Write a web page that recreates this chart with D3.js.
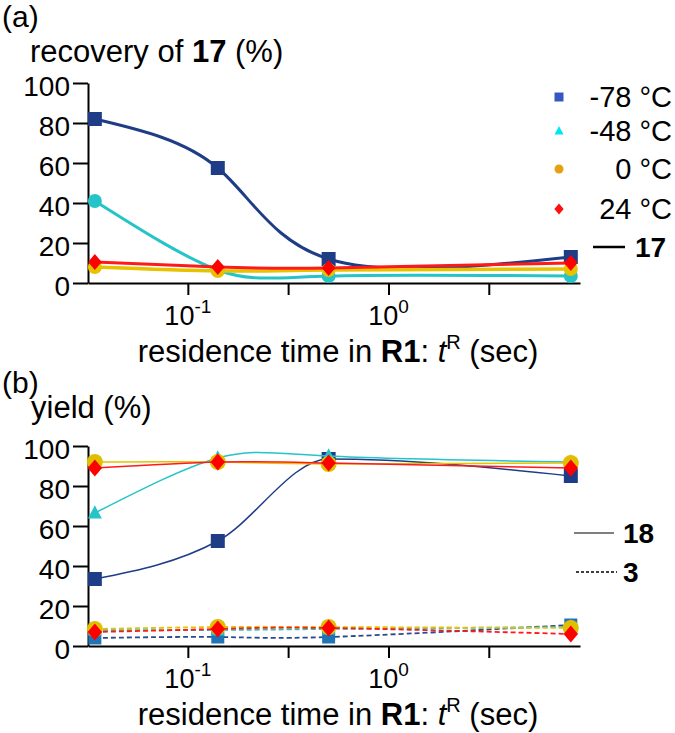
<!DOCTYPE html>
<html>
<head>
<meta charset="utf-8">
<script src="https://cdn.jsdelivr.net/npm/d3@7"></script>
<style>
body { margin: 0; background: #fff; }
svg { font-family: "Liberation Sans", Arial, Helvetica, sans-serif; }
</style>
</head>
<body>
<svg></svg>
<script>
var w = 675, h = 733;
var svg = d3.select("svg").attr("width", w).attr("height", h);

// residence times (sec)
var times = [0.0344, 0.141, 0.503, 8.1];
var temps = ["-78 °C", "-48 °C", "0 °C", "24 °C"];
var xTicks = [0.1, 0.316, 1, 3.16];
var xExp = ["-1", "", "0", ""];
var yTicks = [0, 20, 40, 60, 80, 100];

// (a) recovery of 17 (%)
var rec17_m78 = [82, 57.5, 12, 13];
var rec17_m48 = [41, 6.5, 3.5, 3.5];
var rec17_0 = [8, 6, 6.5, 7];
var rec17_24 = [10.5, 8, 7.5, 10];

// (b) yield of 18 (%)
var y18_m78 = [33.5, 52.5, 93.5, 85];
var y18_m48 = [66.5, 94, 95, 92];
var y18_0 = [92, 92, 91, 91.5];
var y18_24 = [89, 92, 91.5, 89];

// (b) yield of 3 (%)
var y3_m78 = [4, 4.5, 4.5, 10.5];
var y3_m48 = [8, 8, 8.5, 9.5];
var y3_0 = [8.5, 9.5, 9.5, 9];
var y3_24 = [7, 8.5, 9, 6];

var x = d3.scaleLog().domain([0.0318, 9.0]).range([88, 580]);
var yA = d3.scaleLinear().domain([0, 100]).range([283, 83]);
var yB = d3.scaleLinear().domain([0, 100]).range([646, 446]);

function marker(type, s) {
	if (type == "square") return "M" + (-s) + "," + (-s) + "h" + 2 * s + "v" + 2 * s + "h" + (-2 * s) + "Z";
	if (type == "triangle") return "M0," + (-s * 1.1) + "L" + s + "," + (s * 0.8) + "L" + (-s) + "," + (s * 0.8) + "Z";
	if (type == "diamond") return "M0," + (-s) + "L" + (s * 0.85) + ",0L0," + s + "L" + (-s * 0.85) + ",0Z";
	return d3.symbol(d3.symbolCircle, Math.PI * s * s)();
}

function axes(y) {
	var gy = svg.append("g").attr("transform", "translate(88,0)")
		.call(d3.axisLeft(y).tickValues(yTicks).tickSize(15).tickPadding(3).tickSizeOuter(0));
	gy.selectAll("text").attr("font-size", 28).attr("dy", "0.46em")
		.attr("font-family", "Liberation Sans, Arial, sans-serif").attr("fill", "#000");
	var gx = svg.append("g").attr("transform", "translate(0," + y(0) + ")")
		.call(d3.axisBottom(x).tickValues(xTicks).tickSize(12).tickFormat("").tickSizeOuter(0));
	[gy, gx].forEach(function(g) {
		g.selectAll("path, line").attr("stroke", "#000").attr("stroke-width", 2);
	});
	xTicks.forEach(function(t, i) {
		if (xExp[i] === "") return;
		var tx = svg.append("text").attr("x", x(t)).attr("y", y(0) + 42)
			.attr("text-anchor", "middle").attr("font-size", 27);
		tx.append("tspan").text("10");
		tx.append("tspan").attr("font-size", 19).attr("dy", -12).text(xExp[i]);
	});
	var lab = svg.append("text").attr("x", 338).attr("y", y(0) + 79)
		.attr("text-anchor", "middle").attr("font-size", 31);
	lab.append("tspan").text("residence time in ");
	lab.append("tspan").attr("font-weight", "bold").text("R1");
	lab.append("tspan").text(": ");
	lab.append("tspan").attr("font-style", "italic").text("t");
	lab.append("tspan").attr("font-size", 20).attr("dy", -13).text("R");
	lab.append("tspan").attr("dy", 13).text(" (sec)");
}

function serie(y, vals, color, width, dash, type, mcolor, s, curve) {
	var pts = times.map(function(t, i) { return [t, vals[i]]; });
	var line = d3.line().x(function(d) { return x(d[0]); })
		.y(function(d) { return y(d[1]); }).curve(curve || d3.curveNatural);
	svg.append("path").attr("d", line(pts)).attr("fill", "none")
		.attr("stroke", color).attr("stroke-width", width)
		.attr("stroke-dasharray", dash);
	svg.selectAll(null).data(pts).enter().append("path")
		.attr("d", marker(type, s))
		.attr("transform", function(d) { return "translate(" + x(d[0]) + "," + y(d[1]) + ")"; })
		.attr("fill", mcolor);
}

/* (a) */
svg.append("text").attr("x", 2).attr("y", 27).attr("font-size", 30).text("(a)");
var ta = svg.append("text").attr("x", 30).attr("y", 62).attr("font-size", 31);
ta.append("tspan").text("recovery of ");
ta.append("tspan").attr("font-weight", "bold").text("17");
ta.append("tspan").text(" (%)");
axes(yA);

serie(yA, rec17_m78, "#1f3d87", 3, null, "square", "#1f3d87", 7);
serie(yA, rec17_m48, "#25c4c8", 3, null, "circle", "#25c4c8", 7);
serie(yA, rec17_0, "#e6c200", 3.5, null, "circle", "#e6c200", 7);
serie(yA, rec17_24, "#ff1a1a", 3, null, "diamond", "#ff0000", 8);

// legend
var legY = [97, 131, 169, 209];
var legType = ["square", "triangle", "circle", "diamond"];
var legCol = ["#3558c0", "#00e6f0", "#e6a010", "#ff1010"];
temps.forEach(function(t, i) {
	svg.append("path").attr("d", marker(legType[i], legType[i] == "diamond" ? 5.5 : 4.5))
		.attr("transform", "translate(559," + legY[i] + ")").attr("fill", legCol[i]);
	svg.append("text").attr("x", 672).attr("y", legY[i] + 10).attr("text-anchor", "end")
		.attr("font-size", 29).text(t);
});
svg.append("line").attr("x1", 593).attr("x2", 625).attr("y1", 247).attr("y2", 247)
	.attr("stroke", "#000").attr("stroke-width", 2.5);
svg.append("text").attr("x", 635).attr("y", 257).attr("font-size", 28)
	.attr("font-weight", "bold").text("17");

/* (b) */
svg.append("text").attr("x", 2).attr("y", 393).attr("font-size", 30).text("(b)");
svg.append("text").attr("x", 31).attr("y", 418).attr("font-size", 31).text("yield (%)");
axes(yB);

serie(yB, y3_m78, "#2c4a8a", 1.8, "5,3", "square", "#1f74b8", 6.5);
serie(yB, y3_m48, "#25c4c8", 1.8, "5,3", "triangle", "#25c4c8", 7);
serie(yB, y3_0, "#e6c200", 1.8, "5,3", "circle", "#e0be00", 8);
serie(yB, y3_24, "#ff1a1a", 1.8, "5,3", "diamond", "#ff0000", 8.5);

serie(yB, y18_m78, "#1f3d87", 1.5, null, "square", "#1f3d87", 7, d3.curveMonotoneX);
serie(yB, y18_m48, "#25c4c8", 1.5, null, "triangle", "#25c4c8", 7);
serie(yB, y18_0, "#e6c200", 1.5, null, "circle", "#e0be00", 8);
serie(yB, y18_24, "#ff1a1a", 1.5, null, "diamond", "#ff0000", 8.5);

svg.append("line").attr("x1", 574).attr("x2", 614).attr("y1", 533).attr("y2", 533)
	.attr("stroke", "#555").attr("stroke-width", 1.5);
svg.append("text").attr("x", 623).attr("y", 543).attr("font-size", 28)
	.attr("font-weight", "bold").text("18");
svg.append("line").attr("x1", 576).attr("x2", 617).attr("y1", 572).attr("y2", 572)
	.attr("stroke", "#000").attr("stroke-width", 1.3).attr("stroke-dasharray", "3,2");
svg.append("text").attr("x", 623).attr("y", 582).attr("font-size", 28)
	.attr("font-weight", "bold").text("3");
</script>
</body>
</html>
